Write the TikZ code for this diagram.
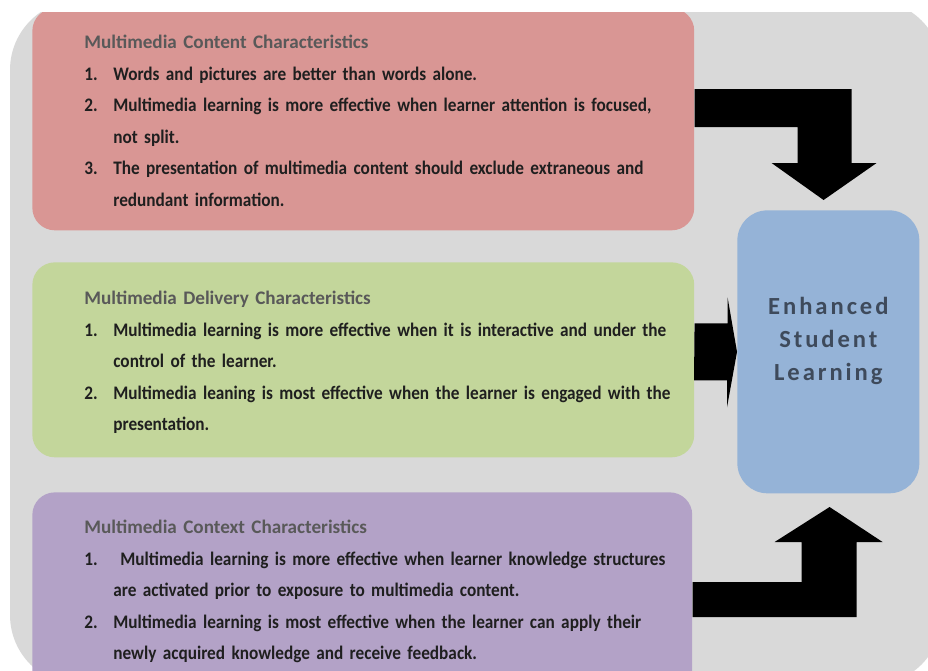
\documentclass[tikz,border=0pt]{standalone}
\usepackage{fontspec}
\setmainfont{Carlito}[FakeStretch=0.9]
\newfontfamily\headfont{Carlito}
\newfontfamily\spacedfont[LetterSpace=12]{Carlito}
\usepackage{tikz}
\usetikzlibrary{positioning, calc}

\definecolor{bggrey}{HTML}{D9D9D9}
\definecolor{contentred}{HTML}{D99694}
\definecolor{deliverygreen}{HTML}{C3D69B}
\definecolor{contextpurple}{HTML}{B3A2C7}
\definecolor{outcomeblue}{HTML}{95B3D7}
\definecolor{headgrey}{HTML}{595959}
\definecolor{itemblack}{HTML}{1F1F1F}
\definecolor{outcometext}{HTML}{3E4A5B}

\newcommand{\listhead}[1]{{\color{headgrey}\headfont #1}\par}
\newcommand{\listitem}[2]{\hangindent=16.5pt\hangafter=1\noindent\makebox[16.5pt][l]{#1}#2\par}
\newcommand{\wrap}{\unskip\hfil\break}

\tikzset{
  box/.style={rounded corners=0.45cm, inner sep=0, anchor=north west},
  listtext/.style={anchor=north west, inner sep=0, text width=13cm, align=left,
    text=itemblack, font=\fontsize{10.9}{17.9}\selectfont\bfseries},
  blockarrow/.style={fill=black}
}

\begin{document}
\begin{tikzpicture}[x=0.02cm, y=-0.02cm]
  \useasboundingbox (0,0) rectangle (928,670);
  \clip (0,12) rectangle (928,670);
  \fill[bggrey, rounded corners=1.4cm] (10,0) rectangle (942,685);

  \node[box, fill=contentred,    minimum width=13.24cm, minimum height=4.44cm] (content)  at (32,8)    {};
  \node[box, fill=deliverygreen, minimum width=13.24cm, minimum height=3.9cm]  (delivery) at (32,262)  {};
  \node[box, fill=contextpurple, minimum width=13.2cm,  minimum height=4.6cm]  (context)  at (32,492)  {};
  \node[box, fill=outcomeblue, rounded corners=0.6cm,
        minimum width=3.64cm, minimum height=5.66cm]                           (outcome)  at (737,210) {};

  \node[listtext] (contentlist) at ($(content.north west)+(52,27)$) {%
    \listhead{Multimedia Content Characteristics}
    \listitem{1.}{Words and pictures are better than words alone.}
    \listitem{2.}{Multimedia learning is more effective when learner attention is focused,\wrap not split.}
    \listitem{3.}{The presentation of multimedia content should exclude extraneous and\wrap redundant information.}};

  \node[listtext] (deliverylist) at ($(delivery.north west)+(52,29)$) {%
    \listhead{Multimedia Delivery Characteristics}
    \listitem{1.}{Multimedia learning is more effective when it is interactive and under the\wrap control of the learner.}
    \listitem{2.}{Multimedia leaning is most effective when the learner is engaged with the\wrap presentation.}};

  \node[listtext] (contextlist) at ($(context.north west)+(52,28)$) {%
    \listhead{Multimedia Context Characteristics}
    \listitem{1.}{\hspace{4pt}Multimedia learning is more effective when learner knowledge structures\wrap are activated prior to exposure to multimedia content.}
    \listitem{2.}{Multimedia learning is most effective when the learner can apply their\wrap newly acquired knowledge and receive feedback.}};

  \node[align=center, text=outcometext, font=\spacedfont\fontsize{14}{18.8}\selectfont\bfseries]
    (outcometitle) at ($(outcome.center)+(0,-11)$) {Enhanced\\Student\\Learning};

  % bent arrows into the outcome box
  \fill[blockarrow] ($(content.north east)+(0,81)$) -- ++(157,0) -- ++(0,74) -- ++(25,0)
    -- ++(-53,37) -- ++(-52,-37) -- ++(26,0) -- ++(0,-36) -- ++(-103,0) -- cycle;
  \fill[blockarrow] ($(delivery.east |- outcome.west)+(0,-28.5)$) -- ++(33,0) -- ++(0,-26)
    -- (outcome.west) -- ++(-10,55.5) -- ++(0,-27) -- ++(-33,0) -- cycle;
  \fill[blockarrow] ($(context.north east)+(0,125)$) -- ++(164,0) -- ++(0,-75) -- ++(26,0)
    -- ++(-53,-35) -- ++(-55,35) -- ++(27,0) -- ++(0,40) -- ++(-109,0) -- cycle;
\end{tikzpicture}
\end{document}
